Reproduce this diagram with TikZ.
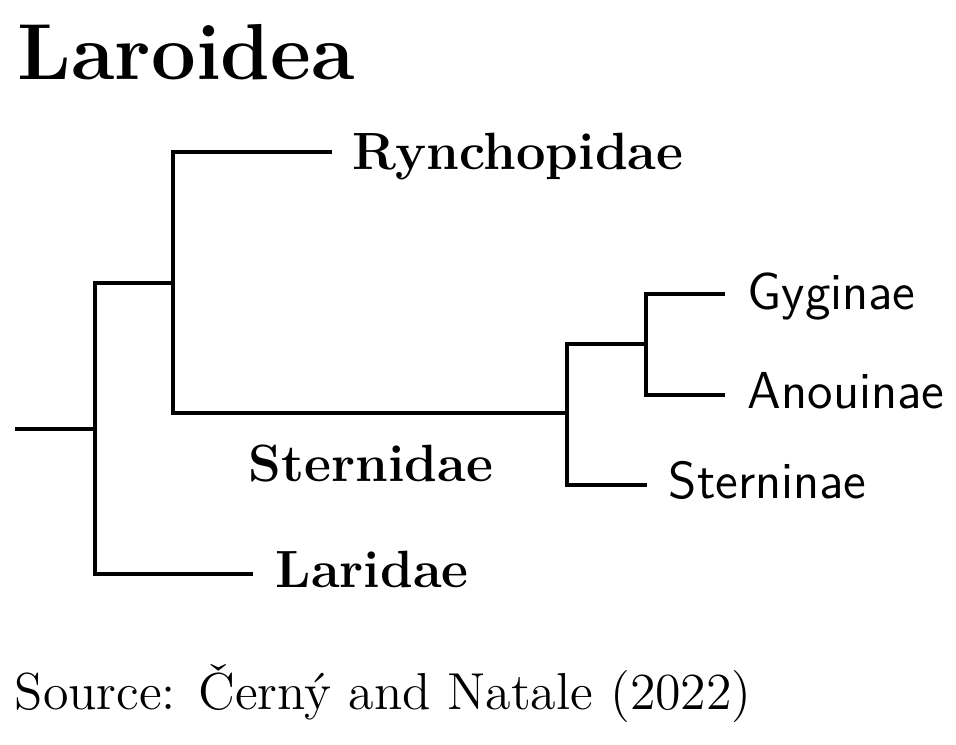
\documentclass[tikz,border=0pt]{standalone}
\usepackage{tikz}
\usetikzlibrary{positioning}

\begin{document}
\begin{tikzpicture}[
  x=0.25pt, y=-0.25pt,
  branch/.style={line width=1pt, line cap=rect},
  clade/.style={font=\fontsize{13.1}{16}\selectfont\bfseries, anchor=base west, inner sep=0pt},
  subclade/.style={font=\fontsize{13}{16}\selectfont\sffamily, anchor=base west, inner sep=0pt},
  every node/.style={font=\fontsize{13}{16}\selectfont}
]
\useasboundingbox (0,0) rectangle (956,745);

% Depths (x-coords) of the split points
\def\xroot{17}   % stem
\def\xlar{95}    % Laroidea split
\def\xryn{173}   % Rynchopidae / Sternidae split
\def\xste{567}   % Sternidae split
\def\xgyg{646}   % Gyginae / Anouinae split

% Title
\node[font=\fontsize{19.85}{24}\selectfont\bfseries, anchor=base west, inner sep=0pt] (title) at (17, 80) {Laroidea};

% Split points
\coordinate (root) at (\xroot, 429);
\coordinate (nLar) at (\xlar, 429);
\coordinate (nLarUp) at (\xlar, 283);
\coordinate (nLarDn) at (\xlar, 574);
\coordinate (nRyn) at (\xryn, 283);
\coordinate (nRynUp) at (\xryn, 152);
\coordinate (nRynDn) at (\xryn, 413);
\coordinate (nSte) at (\xste, 413);
\coordinate (nSteUp) at (\xste, 344);
\coordinate (nSteDn) at (\xste, 485);
\coordinate (nGyg) at (\xgyg, 344);
\coordinate (nGygUp) at (\xgyg, 294);
\coordinate (nGygDn) at (\xgyg, 395);

% Tips
\coordinate (tRyn) at (330, 152);
\coordinate (tLar) at (251, 574);
\coordinate (tGyg) at (723, 294);
\coordinate (tAno) at (723, 395);
\coordinate (tStn) at (645, 485);

% Branches
\draw[branch] (root) -- (nLar);
\draw[branch] (nLarUp) -- (nLarDn);
\draw[branch] (nLarDn) -- (tLar);
\draw[branch] (nLarUp) -- (nRyn);
\draw[branch] (nRynUp) -- (nRynDn);
\draw[branch] (nRynUp) -- (tRyn);
\draw[branch] (nRynDn) -- (nSte);
\draw[branch] (nSteUp) -- (nSteDn);
\draw[branch] (nSteDn) -- (tStn);
\draw[branch] (nSteUp) -- (nGyg);
\draw[branch] (nGygUp) -- (nGygDn);
\draw[branch] (nGygUp) -- (tGyg);
\draw[branch] (nGygDn) -- (tAno);

% Labels
\node[clade] (lRyn) at (352, 170) {Rynchopidae};
\node[clade] (lSte) at (248, 482) {Sternidae};
\node[clade] (lLar) at (275, 588) {Laridae};
\node[subclade] (lGyg) at (747, 310) {Gyginae};
\node[subclade] (lAno) at (747, 409) {Anouinae};
\node[subclade] (lStn) at (668, 499) {Sterninae};

% Source
\node[anchor=base west, inner sep=0pt] (source) at (14, 710) {Source: Černý and Natale (2022)};

\end{tikzpicture}
\end{document}
